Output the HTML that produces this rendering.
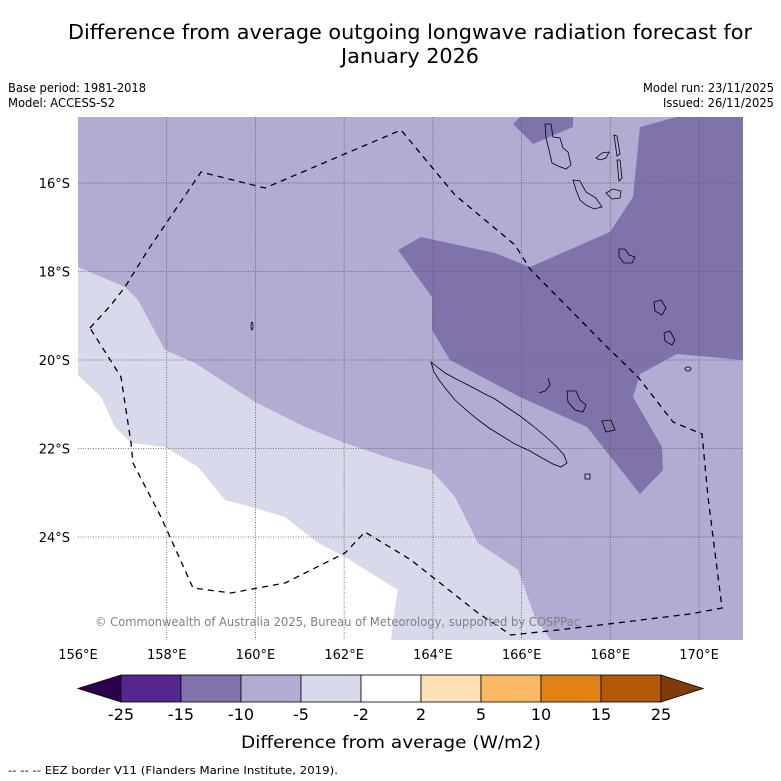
<!DOCTYPE html>
<html><head><meta charset="utf-8"><style>
html,body{margin:0;padding:0;background:#fff;width:781px;height:781px;overflow:hidden}
svg{display:block}
svg text{font-family:"DejaVu Sans","Liberation Sans",sans-serif}
</style></head><body>
<svg id="chart" width="781" height="781" viewBox="0 0 781 781" xmlns="http://www.w3.org/2000/svg">
<text x="410" y="39" font-size="20" text-anchor="middle" textLength="684" lengthAdjust="spacingAndGlyphs">Difference from average outgoing longwave radiation forecast for</text>
<text x="410" y="63" font-size="20" text-anchor="middle" textLength="138" lengthAdjust="spacingAndGlyphs">January 2026</text>
<text x="8" y="92" font-size="12" textLength="138" lengthAdjust="spacingAndGlyphs">Base period: 1981-2018</text>
<text x="8" y="107" font-size="12" textLength="107" lengthAdjust="spacingAndGlyphs">Model: ACCESS-S2</text>
<text x="774" y="92" font-size="12" text-anchor="end" textLength="131" lengthAdjust="spacingAndGlyphs">Model run: 23/11/2025</text>
<text x="774" y="107" font-size="12" text-anchor="end" textLength="111" lengthAdjust="spacingAndGlyphs">Issued: 26/11/2025</text>
<defs><clipPath id="mapclip"><rect x="78" y="117" width="665" height="523"/></clipPath></defs>
<g id="map" clip-path="url(#mapclip)">
<rect x="78" y="117" width="665" height="523" fill="#b2abd2"/>
<polygon fill="#d8daeb" points="78,267 125,287 138,300 165,350 195,363 255,402 305,427 345,443 395,460 431,470 455,497 478,543 518,570 535,617 551,640 78,640"/>
<polygon fill="#ffffff" points="78,375 101,397 115,427 131,443 165,447 198,467 225,500 255,508 285,517 318,543 345,557 398,590 395,607 391,640 78,640"/>
<polygon fill="#8073ac" points="398,250 421,237 495,253 530,267 610,232 633,197 640,127 677,117 743,117 743,360 677,354 640,374 633,397 662,447 663,470 640,494 587,427 520,397 450,360 432,330 432,297"/>
<polygon fill="#8073ac" points="513,124 520,117 573,117 573,127 533,144"/>
<g id="grid" stroke="#555" stroke-width="0.8" stroke-dasharray="1,1.5" fill="none"></g>
<g fill="none" stroke="#000" stroke-width="0.8">
<path d="M431,362 L436,366 L445,373 L458,380 L470,386 L483,393 L495,399 L508,408 L520,416 L533,426 L545,436 L556,446 L564,455 L567,463 L561,467 L553,464 L542,458 L530,451 L515,444 L502,436 L489,428 L477,419 L465,409 L455,400 L446,389 L439,380 L434,372 Z"/>
<path d="M545,124 L551,124 L553,137 L560,138 L563,148 L568,152 L571,165 L566,169 L558,166 L552,163 L549,150 L546,138 Z"/>
<path d="M573,180 L580,181 L586,192 L596,198 L602,207 L594,209 L586,205 L580,200 L576,190 Z"/>
<path d="M619,249 L625,249 L629,255 L635,257 L632,263 L624,263 L619,257 Z"/>
<path d="M614,135 L617,136 L620,154 L617,156 Z"/>
<path d="M617,160 L620,160 L622,178 L619,181 Z"/>
<path d="M596,158 L602,153 L609,152 L606,158 L600,160 Z"/>
<path d="M606,193 L613,189 L621,191 L620,198 L612,199 Z"/>
<path d="M654,302 L661,300 L666,308 L662,315 L655,311 Z"/>
<path d="M664,333 L670,331 L675,340 L672,345 L665,341 Z"/>
<path d="M567,391 L576,391 L580,400 L586,405 L583,412 L575,410 L568,402 Z"/>
<path d="M602,421 L611,420 L615,430 L606,432 Z"/>
<path d="M548,378 L550,385 L545,391 L539,393"/>
<path d="M585,474 L590,474 L590,479 L585,479 Z"/>
<ellipse cx="688" cy="369" rx="3" ry="2"/>
<ellipse cx="252" cy="326" rx="1" ry="4"/>
</g>
<polyline fill="none" stroke="#000" stroke-width="1.3" stroke-dasharray="6,5" points="90,328 111,305 125,287 148,250 201,172 265,188 401,130 455,195 515,245 530,269 607,347 638,377 673,422 702,434 708,497 722,608 690,614 600,625 558,630 511,635 478,613 411,560 365,532 345,553 285,583 231,593 193,588 161,517 133,463 131,443 121,377 90,328"/>
<text x="95" y="626" font-size="12" fill="#808080" textLength="485" lengthAdjust="spacingAndGlyphs">© Commonwealth of Australia 2025, Bureau of Meteorology, supported by COSPPac</text>
</g>
<g id="axes" font-size="13"></g>
<g id="cbar"></g>
<text x="391" y="748" font-size="17" text-anchor="middle" textLength="300" lengthAdjust="spacingAndGlyphs">Difference from average (W/m2)</text>
<text x="8" y="774" font-size="11" textLength="330" lengthAdjust="spacingAndGlyphs">--  --  -- EEZ border V11 (Flanders Marine Institute, 2019).</text>
</svg>
<script>
const lonTicks=[156,158,160,162,164,166,168,170];
const latTicks=[16,18,20,22,24];
const cbBounds=[-25,-15,-10,-5,-2,2,5,10,15,25];
const cbColors=["#54278f","#8073ac","#b2abd2","#d8daeb","#ffffff","#fee0b6","#fdb863","#e08214","#b35806"];
const cbUnder="#2d004b", cbOver="#7f3b08";
const NS="http://www.w3.org/2000/svg";
function xLon(l){return 78+(l-156)*44.36;}
function yLat(s){return 183+(s-16)*44.25;}
function mk(t,a,p){const e=document.createElementNS(NS,t);for(const k in a)e.setAttribute(k,a[k]);p.appendChild(e);return e;}
const grid=document.getElementById('grid'), axes=document.getElementById('axes');
lonTicks.forEach(l=>{const x=xLon(l);
 if(l>156){const g=mk('line',{x1:x,y1:117,x2:x,y2:640},grid);
 
 }
 const t=mk('text',{x:x,y:659,'text-anchor':'middle'},axes);t.textContent=l+'°E';
 
 });
latTicks.forEach(s=>{const y=yLat(s);
 const g=mk('line',{x1:78,y1:y,x2:743,y2:y},grid);
 
 
 const t=mk('text',{x:70,y:y+5,'text-anchor':'end'},axes);t.textContent=s+'°S';
 
 });
const cb=document.getElementById('cbar');
const cx0=121,cw=60,cy=675,ch=27;
const u=mk('polygon',{points:`${cx0},${cy} ${cx0},${cy+ch} 78,${cy+ch/2}`,fill:cbUnder,stroke:'#000','stroke-width':0.8},cb);


cbColors.forEach((c,i)=>{const r=mk('rect',{x:cx0+i*cw,y:cy,width:cw,height:ch,fill:c,stroke:'#000','stroke-width':0.8},cb);
 
 });
const xe=cx0+cbColors.length*cw;
const o=mk('polygon',{points:`${xe},${cy} ${xe},${cy+ch} ${xe+42},${cy+ch/2}`,fill:cbOver,stroke:'#000','stroke-width':0.8},cb);


cbBounds.forEach((b,i)=>{const t=mk('text',{x:cx0+i*cw,y:720,'text-anchor':'middle','font-size':16},cb);t.textContent=b;
 
 });
</script>
</body></html>
